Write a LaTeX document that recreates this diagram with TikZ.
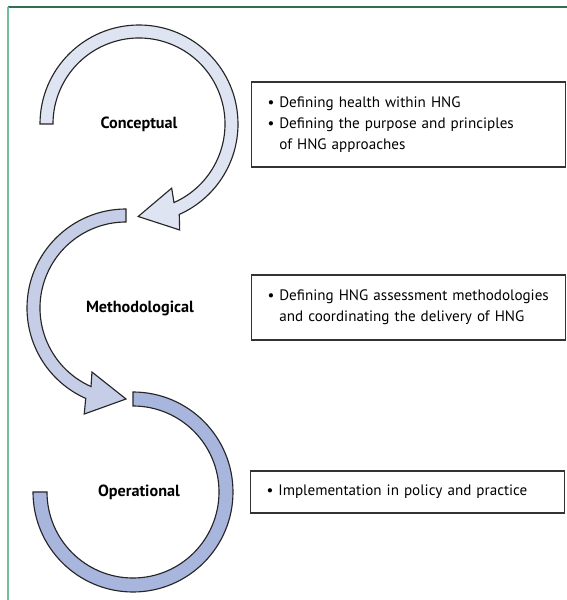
\documentclass[tikz,border=0pt]{standalone}
\usepackage{fontspec}
\setmainfont{PT Sans}

\definecolor{bandA}{RGB}{222,228,241}
\definecolor{bandB}{RGB}{198,206,231}
\definecolor{bandC}{RGB}{168,181,220}
\definecolor{frameDark}{RGB}{47,113,80}
\definecolor{frameLight}{RGB}{111,191,152}

\tikzset{
    band/.style={draw=black!85, line width=0.65pt, line join=miter},
    infobox/.style={draw=black!80, line width=0.6pt, align=left, inner xsep=0.32cm, text width=5.64cm, font=\fontsize{8.6}{11.9}\selectfont},
    stagename/.style={font=\fontsize{9.2}{11}\selectfont\bfseries},
}

\begin{document}
\begin{tikzpicture}
            \useasboundingbox (0,0) rectangle (11.34,12);
            \draw[frameDark, line width=0.7pt] (0.16,11.86)--(11.34,11.86);
            \draw[frameLight, line width=0.7pt] (0.16,11.86)--(0.16,0);
            % first band, turning clockwise into an arrow
            \begin{scope}[shift={(2.78,9.52)}]
                \draw[band, fill=bandA] (180:1.98) arc (180:-66:1.98) -- (-69:2.27) -- (-90.5:1.85) -- (-63:1.44) -- (-66:1.72) arc (-66:180:1.72) -- cycle;
                \node[stagename] (concept) at (0,0) {Conceptual};
            \end{scope}
            % second band, turning the other way
            \begin{scope}[shift={(2.52,5.84)}]
                \draw[band, fill=bandB] (90:1.98) arc (90:246:1.98) -- (248.5:2.28) -- (270:1.82) -- (242:1.45) -- (246:1.72) arc (246:90:1.72) -- cycle;
                \node[stagename] (method) at (0.28,0) {Methodological};
            \end{scope}
            % last band, no arrow
            \begin{scope}[shift={(2.66,2.16)}]
                \draw[band, fill=bandC] (90:2.0) arc (90:-180:2.0) -- (-180:1.72) arc (-180:90:1.72) -- cycle;
                \node[stagename] (operate) at (0.12,0) {Operational};
            \end{scope}
            \node[infobox, minimum height=1.70cm] (conceptbox) at (8.17,9.51) {\textbullet\ Defining health within HNG\\ \textbullet\ Defining the purpose and principles\\ \hphantom{\textbullet\ }of HNG approaches};
            \node[infobox, minimum height=1.30cm] (methodbox) at (8.17,5.85) {\textbullet\ Defining HNG assessment methodologies\\ \hphantom{\textbullet\ }and coordinating the delivery of HNG};
            \node[infobox, minimum height=0.84cm] (operatebox) at (8.15,2.16) {\textbullet\ Implementation in policy and practice};
        \end{tikzpicture}
\end{document}
